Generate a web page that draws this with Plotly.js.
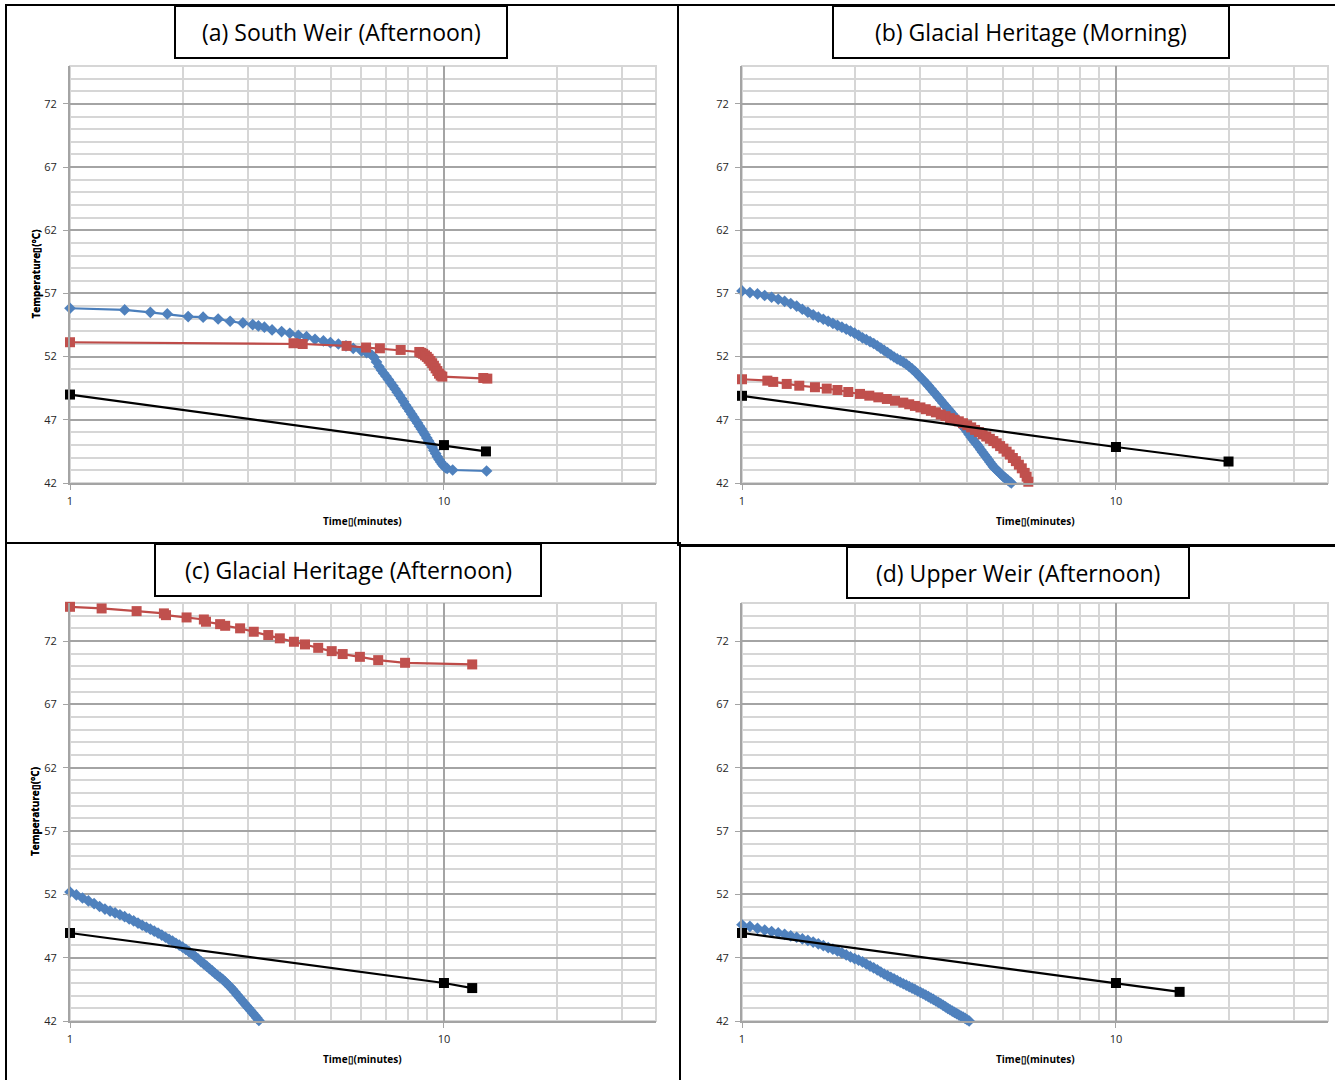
<!DOCTYPE html>
<html>
<head>
<meta charset="utf-8">
<script src="https://cdn.plot.ly/plotly-3.0.1.min.js"></script>
<style>
  html, body { margin: 0; padding: 0; background: #ffffff; }
  #chart { width: 1335px; height: 1080px; }
</style>
</head>
<body>
<div id="chart"></div>
<script>
// ---- (a) South Weir (Afternoon) ----
const aBlueTime = [1.00, 1.40, 1.64, 1.82, 2.07, 2.27, 2.49, 2.68, 2.90, 3.08, 3.19, 3.31, 3.47, 3.68, 3.87, 4.08, 4.29, 4.52, 4.76, 4.97, 5.22, 5.47, 5.72, 6.02, 6.21, 6.41,
  6.50, 6.60, 6.70, 6.80, 6.90, 7.00, 7.10, 7.20, 7.30, 7.40, 7.50, 7.60, 7.70, 7.80, 7.90, 8.00, 8.10, 8.20, 8.30, 8.40, 8.50, 8.60, 8.70, 8.80, 8.90,
  9.00, 9.10, 9.20, 9.30, 9.40, 9.50, 9.60, 9.70, 9.80, 9.90, 10.00, 10.10, 10.20, 10.55, 13.00];
const aBlueTemp = [55.83, 55.70, 55.51, 55.38, 55.17, 55.12, 54.98, 54.80, 54.67, 54.53, 54.43, 54.33, 54.11, 53.98, 53.85, 53.69, 53.58, 53.37, 53.24, 53.11, 53.00, 52.85, 52.66, 52.45, 52.32, 52.13,
  51.95, 51.58, 51.22, 50.94, 50.68, 50.44, 50.19, 49.94, 49.69, 49.44, 49.19, 48.94, 48.68, 48.42, 48.16, 47.92, 47.68, 47.45, 47.21, 46.97, 46.74, 46.50, 46.27, 46.04, 45.81,
  45.57, 45.33, 45.09, 44.84, 44.58, 44.33, 44.08, 43.86, 43.66, 43.48, 43.33, 43.22, 43.15, 43.03, 42.95];
const aRedTime = [1.00, 3.96, 4.19, 5.49, 6.19, 6.74, 7.66, 8.59, 8.70, 8.80, 8.90, 9.00, 9.10, 9.20, 9.30, 9.40, 9.50, 9.60, 9.70, 9.80, 9.90, 12.74, 13.06];
const aRedTemp = [53.14, 53.06, 53.00, 52.85, 52.72, 52.66, 52.53, 52.37, 52.30, 52.22, 52.10, 51.98, 51.83, 51.66, 51.48, 51.28, 51.07, 50.86, 50.65, 50.50, 50.42, 50.31, 50.26];
const aLimitTime = [1, 10, 12.95];
const aLimitTemp = [49.0, 45.0, 44.5];

// ---- (b) Glacial Heritage (Morning) ----
const bBlueTime = [1.00, 1.05, 1.10, 1.15, 1.20, 1.25, 1.30, 1.35, 1.40, 1.45, 1.50, 1.55, 1.60, 1.65, 1.70, 1.75, 1.80, 1.85, 1.90, 1.95,
  2.00, 2.05, 2.10, 2.15, 2.20, 2.25, 2.30, 2.35, 2.40, 2.45, 2.50, 2.55, 2.60, 2.65, 2.70, 2.75, 2.80, 2.85, 2.90, 2.95,
  3.00, 3.05, 3.10, 3.15, 3.20, 3.25, 3.30, 3.35, 3.40, 3.45, 3.50, 3.55, 3.60, 3.65, 3.70, 3.75, 3.80, 3.85, 3.90, 3.95,
  4.00, 4.05, 4.10, 4.15, 4.20, 4.25, 4.30, 4.35, 4.40, 4.45, 4.50, 4.55, 4.60, 4.65, 4.70, 4.75, 4.80, 4.85, 4.90, 4.95,
  5.00, 5.05, 5.10, 5.15, 5.20, 5.25, 5.30];
const bBlueTemp = [57.20, 57.07, 56.96, 56.84, 56.70, 56.54, 56.38, 56.20, 56.00, 55.75, 55.52, 55.31, 55.12, 54.96, 54.80, 54.64, 54.48, 54.33, 54.18, 54.02,
  53.86, 53.68, 53.49, 53.34, 53.19, 53.04, 52.86, 52.67, 52.49, 52.32, 52.14, 51.97, 51.82, 51.70, 51.56, 51.40, 51.22, 51.03, 50.83, 50.60,
  50.37, 50.16, 49.93, 49.70, 49.46, 49.23, 49.00, 48.77, 48.54, 48.31, 48.10, 47.88, 47.67, 47.46, 47.26, 47.06, 46.86, 46.67, 46.50, 46.30,
  46.07, 45.84, 45.62, 45.42, 45.23, 45.04, 44.85, 44.64, 44.43, 44.24, 44.05, 43.86, 43.67, 43.48, 43.29, 43.15, 43.02, 42.90, 42.77, 42.64,
  42.50, 42.40, 42.30, 42.20, 42.10, 42.00, 41.90];
const bRedTime = [1.000, 1.169, 1.212, 1.317, 1.423, 1.567, 1.685, 1.800, 1.924, 2.068, 2.190, 2.315, 2.440, 2.565, 2.700,
  2.80, 2.90, 3.00, 3.10, 3.20, 3.30, 3.40, 3.50, 3.60, 3.70, 3.80, 3.90, 4.00, 4.10, 4.20, 4.30, 4.40, 4.50, 4.60, 4.70,
  4.80, 4.90, 5.00, 5.10, 5.20, 5.30, 5.40, 5.50, 5.60, 5.70, 5.77, 5.83];
const bRedTemp = [50.21, 50.10, 50.00, 49.84, 49.70, 49.58, 49.47, 49.36, 49.20, 49.05, 48.91, 48.78, 48.65, 48.51, 48.36,
  48.23, 48.10, 47.98, 47.84, 47.71, 47.59, 47.42, 47.29, 47.13, 47.00, 46.88, 46.73, 46.57, 46.40, 46.20, 46.03, 45.85, 45.68, 45.50, 45.32,
  45.14, 44.92, 44.72, 44.48, 44.25, 43.98, 43.73, 43.45, 43.16, 42.80, 42.50, 42.10];
const bLimitTime = [1, 10, 20];
const bLimitTemp = [48.9, 44.85, 43.7];

// ---- (c) Glacial Heritage (Afternoon) ----
const cRedTime = [1.00, 1.215, 1.507, 1.783, 1.806, 2.05, 2.28, 2.31, 2.52, 2.60, 2.85, 3.10, 3.39, 3.64, 3.97, 4.25, 4.61, 5.01, 5.36, 5.96, 6.67, 7.87, 11.9];
const cRedTemp = [74.70, 74.57, 74.36, 74.18, 74.04, 73.86, 73.70, 73.52, 73.33, 73.20, 73.00, 72.73, 72.47, 72.21, 71.94, 71.73, 71.46, 71.20, 70.97, 70.75, 70.49, 70.28, 70.15];
const cBlueTime = [1.00, 1.04, 1.08, 1.12, 1.16, 1.20, 1.24, 1.28, 1.32, 1.36, 1.40, 1.44, 1.48, 1.52, 1.56, 1.60, 1.64, 1.68, 1.72, 1.76,
  1.80, 1.84, 1.88, 1.92, 1.96, 2.00, 2.04, 2.08, 2.12, 2.16, 2.20, 2.24, 2.28, 2.32, 2.36, 2.40, 2.44, 2.48, 2.52, 2.56,
  2.60, 2.64, 2.68, 2.72, 2.76, 2.80, 2.84, 2.88, 2.92, 2.96, 3.00, 3.04, 3.08, 3.12, 3.16, 3.20];
const cBlueTemp = [52.18, 51.95, 51.71, 51.48, 51.26, 51.04, 50.84, 50.68, 50.53, 50.39, 50.24, 50.06, 49.90, 49.73, 49.56, 49.40, 49.25, 49.09, 48.94, 48.78,
  48.61, 48.45, 48.30, 48.14, 47.99, 47.83, 47.66, 47.48, 47.29, 47.10, 46.90, 46.69, 46.51, 46.33, 46.14, 45.96, 45.77, 45.60, 45.44, 45.28,
  45.09, 44.90, 44.70, 44.50, 44.28, 44.06, 43.85, 43.63, 43.42, 43.22, 43.03, 42.83, 42.63, 42.43, 42.24, 42.04];
const cLimitTime = [1, 10, 11.9];
const cLimitTemp = [48.95, 45.0, 44.6];

// ---- (d) Upper Weir (Afternoon) ----
const dBlueTime = [1.00, 1.05, 1.10, 1.15, 1.20, 1.25, 1.30, 1.35, 1.40, 1.45, 1.50, 1.55, 1.60, 1.65, 1.70, 1.75, 1.80, 1.85, 1.90, 1.95,
  2.00, 2.05, 2.10, 2.15, 2.20, 2.25, 2.30, 2.35, 2.40, 2.45, 2.50, 2.55, 2.60, 2.65, 2.70, 2.75, 2.80, 2.85, 2.90, 2.95,
  3.00, 3.05, 3.10, 3.15, 3.20, 3.25, 3.30, 3.35, 3.40, 3.45, 3.50, 3.55, 3.60, 3.65, 3.70, 3.75, 3.80, 3.85, 3.90, 3.95,
  4.00, 4.05];
const dBlueTemp = [49.60, 49.47, 49.32, 49.18, 49.06, 48.95, 48.84, 48.72, 48.61, 48.48, 48.36, 48.23, 48.09, 47.95, 47.80, 47.67, 47.53, 47.38, 47.22, 47.06,
  46.93, 46.80, 46.66, 46.50, 46.34, 46.19, 46.04, 45.87, 45.71, 45.58, 45.44, 45.32, 45.19, 45.06, 44.94, 44.83, 44.71, 44.60, 44.49, 44.37,
  44.26, 44.15, 44.04, 43.93, 43.81, 43.70, 43.58, 43.47, 43.36, 43.24, 43.12, 43.00, 42.89, 42.78, 42.68, 42.59, 42.49, 42.39, 42.30, 42.20,
  42.10, 42.00];
const dLimitTime = [1, 10, 14.8];
const dLimitTemp = [48.95, 45.0, 44.3];

// ---- shared axis labels ----
const panelTitles = ['(a) South Weir (Afternoon)', '(b) Glacial Heritage (Morning)', '(c) Glacial Heritage (Afternoon)', '(d) Upper Weir (Afternoon)'];
const xMajorTicks = [1, 10];
const xMajorLabels = ['1', '10'];
const xMinorTicks = [2, 3, 4, 5, 6, 7, 8, 9, 20, 30];
const yTitle = 'Temperature\u25AF(°C)';
const xTitle = 'Time\u25AF(minutes)';

// ---- page geometry (pixels on a 1335 x 1080 page) ----
const W = 1335, H = 1080;
const PX = x => x / W;
const PY = y => 1 - y / H;
const FONT = '"Open Sans", Lato, sans-serif';

const BLUE_LINE = '#4A7EBB', BLUE_FILL = '#4F81BD';
const RED_LINE = '#BE4B48', RED_FILL = '#C0504D';

function blueTrace(xs, ys, n) {
  return { x: xs, y: ys, xaxis: 'x' + n, yaxis: 'y' + n, type: 'scatter', mode: 'lines+markers',
    line: { color: BLUE_LINE, width: 2.2 }, cliponaxis: false,
    marker: { symbol: 'diamond', size: 9, color: BLUE_FILL, line: { width: 0 } }, hoverinfo: 'x+y' };
}
function redTrace(xs, ys, n) {
  return { x: xs, y: ys, xaxis: 'x' + n, yaxis: 'y' + n, type: 'scatter', mode: 'lines+markers',
    line: { color: RED_LINE, width: 2.2 }, cliponaxis: false,
    marker: { symbol: 'square', size: 10, color: RED_FILL, line: { width: 0 } }, hoverinfo: 'x+y' };
}
function limitTrace(xs, ys, n) {
  return { x: xs, y: ys, xaxis: 'x' + n, yaxis: 'y' + n, type: 'scatter', mode: 'lines+markers',
    line: { color: '#000000', width: 2.2 }, cliponaxis: false,
    marker: { symbol: 'square', size: 10, color: '#000000', line: { width: 0 } }, hoverinfo: 'x+y' };
}

const data = [
  blueTrace(aBlueTime, aBlueTemp, ''), redTrace(aRedTime, aRedTemp, ''), limitTrace(aLimitTime, aLimitTemp, ''),
  blueTrace(bBlueTime, bBlueTemp, '2'), redTrace(bRedTime, bRedTemp, '2'), limitTrace(bLimitTime, bLimitTemp, '2'),
  blueTrace(cBlueTime, cBlueTemp, '3'), redTrace(cRedTime, cRedTemp, '3'), limitTrace(cLimitTime, cLimitTemp, '3'),
  blueTrace(dBlueTime, dBlueTemp, '4'), limitTrace(dLimitTime, dLimitTemp, '4')
];

const MAJOR_GRID = '#a4a4a4', MINOR_GRID = '#d6d6d6';
const tickFont = { family: FONT, size: 11, color: '#262626' };

function xAxis(left, right, anchor) {
  return {
    type: 'log', range: [0, 1.567], domain: [PX(left), PX(right)], anchor: anchor,
    tickmode: 'array', tickvals: xMajorTicks, ticktext: xMajorLabels,
    ticks: 'outside', ticklen: 5, tickcolor: MAJOR_GRID, tickwidth: 1,
    showgrid: true, gridcolor: MAJOR_GRID, gridwidth: 2,
    minor: { tickmode: 'array', tickvals: xMinorTicks, showgrid: true, gridcolor: MINOR_GRID, gridwidth: 2, ticks: '' },
    showline: true, linecolor: MAJOR_GRID, linewidth: 2, zeroline: false,
    tickfont: tickFont, ticklabelstandoff: 2, fixedrange: true
  };
}
function yAxis(bottom, top, anchor) {
  return {
    range: [42, 75], domain: [PY(bottom), PY(top)], anchor: anchor,
    tickmode: 'linear', tick0: 42, dtick: 5,
    ticks: 'outside', ticklen: 5, tickcolor: MAJOR_GRID, tickwidth: 1,
    showgrid: true, gridcolor: MAJOR_GRID, gridwidth: 2,
    minor: { tick0: 42, dtick: 1, showgrid: true, gridcolor: MINOR_GRID, gridwidth: 2, ticks: '' },
    showline: true, linecolor: MAJOR_GRID, linewidth: 2, zeroline: false,
    tickfont: tickFont, ticklabelstandoff: 4, fixedrange: true
  };
}

// Plot areas: left column x 70..656, right column x 742..1328; top row y 66..483, bottom row y 603..1021
const plotBoxes = [
  { l: 70, r: 656, t: 66, b: 483 },
  { l: 742, r: 1328, t: 66, b: 483 },
  { l: 70, r: 656, t: 603, b: 1021 },
  { l: 742, r: 1328, t: 603, b: 1021 }
];
// Outer frames of the four panels
const frames = [
  { l: 6, r: 678, t: 5, b: 543 },
  { l: 678, r: 1336, t: 5, b: 545 },
  { l: 6, r: 680, t: 543, b: 1082 },
  { l: 680, r: 1336, t: 546, b: 1082 }
];
// Title boxes
const titleBoxes = [
  { l: 175, r: 507, t: 6, b: 58 },
  { l: 833, r: 1229, t: 6, b: 58 },
  { l: 155, r: 541, t: 544, b: 596 },
  { l: 847, r: 1189, t: 547, b: 598 }
];

const shapes = [];
const annotations = [];
const suffix = ['', '2', '3', '4'];

frames.forEach(f => shapes.push({ type: 'rect', xref: 'paper', yref: 'paper',
  x0: PX(f.l), x1: PX(f.r), y0: PY(f.b), y1: PY(f.t), line: { color: '#000000', width: 2 }, layer: 'below' }));

plotBoxes.forEach((p, i) => {
  const s = suffix[i];
  shapes.push({ type: 'rect', xref: 'x' + s + ' domain', yref: 'y' + s + ' domain', x0: 0, x1: 1, y0: 0, y1: 1,
    line: { color: MINOR_GRID, width: 2 }, layer: 'below' });
  annotations.push({ xref: 'paper', yref: 'paper', x: PX(35), y: PY((p.t + p.b) / 2), text: '<b>' + yTitle + '</b>',
    textangle: -90, showarrow: false, xanchor: 'center', yanchor: 'middle', font: { family: FONT, size: 10, color: '#000000' } });
  annotations.push({ xref: 'paper', yref: 'paper', x: PX((p.l + p.r) / 2), y: PY(p.b + 37.5), text: '<b>' + xTitle + '</b>',
    showarrow: false, xanchor: 'center', yanchor: 'middle', font: { family: FONT, size: 10, color: '#000000' } });
});

titleBoxes.forEach((b, i) => {
  shapes.push({ type: 'rect', xref: 'paper', yref: 'paper', x0: PX(b.l), x1: PX(b.r), y0: PY(b.b), y1: PY(b.t),
    line: { color: '#000000', width: 2 }, fillcolor: '#ffffff', layer: 'above' });
  annotations.push({ xref: 'paper', yref: 'paper', x: PX((b.l + b.r) / 2), y: PY((b.t + b.b) / 2), text: panelTitles[i],
    showarrow: false, xanchor: 'center', yanchor: 'middle', font: { family: FONT, size: 23, color: '#000000' } });
});

const layout = {
  width: W, height: H, autosize: false,
  margin: { l: 0, r: 0, t: 0, b: 0, pad: 0 },
  paper_bgcolor: '#ffffff', plot_bgcolor: '#ffffff',
  showlegend: false,
  xaxis: xAxis(70, 656, 'y'), yaxis: yAxis(483, 66, 'x'),
  xaxis2: xAxis(742, 1328, 'y2'), yaxis2: yAxis(483, 66, 'x2'),
  xaxis3: xAxis(70, 656, 'y3'), yaxis3: yAxis(1021, 603, 'x3'),
  xaxis4: xAxis(742, 1328, 'y4'), yaxis4: yAxis(1021, 603, 'x4'),
  shapes: shapes, annotations: annotations
};

Plotly.newPlot('chart', data, layout, { displayModeBar: false, staticPlot: true });
</script>
</body>
</html>
